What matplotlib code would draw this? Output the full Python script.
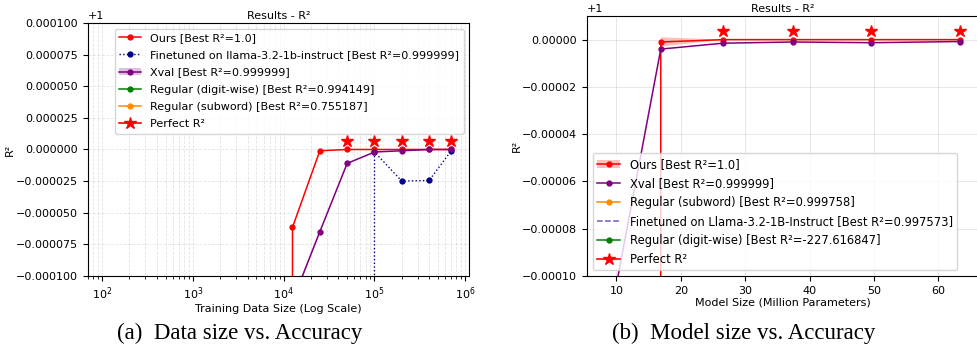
import numpy as np
import matplotlib.pyplot as plt

# --- donnees (a) : taille du jeu d'entrainement ---
data_sizes = [98, 195, 391, 781, 1562, 3125, 6250, 12500, 25000, 50000, 100000, 200000, 400000, 700000]
ours_a = [-3.2, -1.9, -0.84, -0.41, -0.12, -0.031, -0.0042, 0.9999385, 0.999999, 1.0, 1.0, 1.0, 1.0, 1.0]
xval_a = [-2.8, -1.6, -0.95, -0.52, -0.21, -0.064, -0.0093, 0.99988, 0.999935, 0.999989, 0.999998, 0.999999, 1.0, 1.0]
xval_a_std = [0.9, 0.6, 0.4, 0.2, 0.1, 0.03, 0.004, 0.000002, 0.000001, 0.0000005, 0.0, 0.0, 0.0, 0.0]
fine_a = [-4.1, -2.5, -1.3, -0.7, -0.33, -0.12, -0.035, 0.41, 0.78, 0.93, 0.999998, 0.999975, 0.9999755, 0.999999]
digit_a = [-5.3, -3.6, -2.2, -1.4, -0.81, -0.45, -0.18, 0.12, 0.53, 0.81, 0.93, 0.971, 0.988, 0.994149]
subword_a = [-6.0, -4.2, -2.9, -1.9, -1.2, -0.74, -0.41, -0.16, 0.08, 0.31, 0.52, 0.66, 0.72, 0.755187]
star_x_a = [50000, 100000, 200000, 400000, 700000]
star_y_a = [1.0000066, 1.0000066, 1.0000066, 1.0000066, 1.0000066]

# --- donnees (b) : taille du modele ---
model_sizes = [8.2, 16.9, 26.6, 37.5, 49.6, 63.4]
ours_b = [0.62, 0.999999, 1.0, 1.0, 1.0, 1.0]
ours_b_std = [0.2, 0.000002, 0.0, 0.0, 0.0, 0.0]
xval_b = [0.99987, 0.999996, 0.9999985, 0.999999, 0.9999987, 0.9999992]
subword_b = [0.9991, 0.99962, 0.99971, 0.999758, 0.99970, 0.99973]
fine_b = 0.997573
digit_b = [-1450.0, -812.0, -531.0, -390.0, -301.0, -227.616847]
star_x_b = [26.6, 37.5, 49.6, 63.4]
star_y_b = [1.0000035, 1.0000035, 1.0000035, 1.0000035]

plt.rcParams['font.size'] = 8
fig = plt.figure(figsize=(9.77, 3.44), dpi=100)


# etoiles "Perfect R²" : un point par appel pour avoir la ligne dans la legende
def tracer_etoiles(ax, xs, ys):
    for i, (x, y) in enumerate(zip(xs, ys)):
        ax.plot([x], [y], '-*', color='red', markersize=9, linewidth=1.2,
                label='Perfect R²' if i == 0 else None)


# courbe avec bande d'ecart-type (la bande apparait aussi dans la legende)
def tracer_avec_bande(ax, x, y, std, couleur, label):
    y = np.array(y)
    std = np.array(std)
    bande = ax.fill_between(x, y - std, y + std, color=couleur, alpha=0.25, linewidth=0)
    ligne, = ax.plot(x, y, '-o', color=couleur, markersize=3.5, linewidth=1.1)
    return (bande, ligne), label


# ----- (a) -----
ax1 = fig.add_axes([0.0901, 0.1977, 0.390, 0.7355])
handles = []
labels = []
l, = ax1.plot(data_sizes, ours_a, '-o', color='red', markersize=3.5, linewidth=1.1)
handles.append(l); labels.append('Ours [Best R²=1.0]')
l, = ax1.plot(data_sizes, fine_a, ':o', color='darkblue', markersize=3.5, linewidth=1.0)
handles.append(l); labels.append('Finetuned on llama-3.2-1b-instruct [Best R²=0.999999]')
h, lab = tracer_avec_bande(ax1, data_sizes, xval_a, xval_a_std, 'purple', 'Xval [Best R²=0.999999]')
handles.append(h); labels.append(lab)
l, = ax1.plot(data_sizes, digit_a, '-o', color='green', markersize=3.5, linewidth=1.1)
handles.append(l); labels.append('Regular (digit-wise) [Best R²=0.994149]')
l, = ax1.plot(data_sizes, subword_a, '-o', color='darkorange', markersize=3.5, linewidth=1.1)
handles.append(l); labels.append('Regular (subword) [Best R²=0.755187]')
tracer_etoiles(ax1, star_x_a, star_y_a)
hs, ls = ax1.get_legend_handles_labels()
handles += hs
labels += ls
ax1.set_xscale('log')
ax1.set_xlim(70, 1.1e6)
ax1.set_ylim(1 - 0.0001, 1 + 0.0001)
ax1.set_title('Results - R²', fontsize=8, pad=3)
ax1.set_xlabel('Training Data Size (Log Scale)', labelpad=1)
ax1.set_ylabel('R²', labelpad=1)
ax1.grid(True, which='both', linestyle='--', linewidth=0.6, alpha=0.35)
ax1.legend(handles, labels, loc='upper right', fontsize=8, labelspacing=0.65)

# ----- (b) -----
ax2 = fig.add_axes([0.6008, 0.1977, 0.4002, 0.7558])
handles = []
labels = []
h, lab = tracer_avec_bande(ax2, model_sizes, ours_b, ours_b_std, 'red', 'Ours [Best R²=1.0]')
handles.append(h); labels.append(lab)
l, = ax2.plot(model_sizes, xval_b, '-o', color='purple', markersize=3.5, linewidth=1.1)
handles.append(l); labels.append('Xval [Best R²=0.999999]')
l, = ax2.plot(model_sizes, subword_b, '-o', color='darkorange', markersize=3.5, linewidth=1.1)
handles.append(l); labels.append('Regular (subword) [Best R²=0.999758]')
l = ax2.axhline(fine_b, color='slateblue', linestyle='--', linewidth=1.1)
handles.append(l); labels.append('Finetuned on Llama-3.2-1B-Instruct [Best R²=0.997573]')
l, = ax2.plot(model_sizes, digit_b, '-o', color='green', markersize=3.5, linewidth=1.1)
handles.append(l); labels.append('Regular (digit-wise) [Best R²=-227.616847]')
tracer_etoiles(ax2, star_x_b, star_y_b)
hs, ls = ax2.get_legend_handles_labels()
handles += hs
labels += ls
ax2.set_xlim(5.44, 66.16)
ax2.set_ylim(1 - 0.0001, 1 + 0.00001)
ax2.set_title('Results - R²', fontsize=8, pad=3)
ax2.set_xlabel('Model Size (Million Parameters)', labelpad=1)
ax2.set_ylabel('R²', labelpad=0)
ax2.grid(True, linestyle='-', linewidth=0.6, alpha=0.35)
ax2.legend(handles, labels, loc='lower left', fontsize=8.3, labelspacing=0.52)

# legendes des sous-figures
fig.text(0.245, 0.0145, '(a)  Data size vs. Accuracy', ha='center', va='baseline',
         family='Liberation Serif', fontsize=16.5)
fig.text(0.7615, 0.0145, '(b)  Model size vs. Accuracy', ha='center', va='baseline',
         family='Liberation Serif', fontsize=16.5)

fig.savefig('out.png', dpi=100)
